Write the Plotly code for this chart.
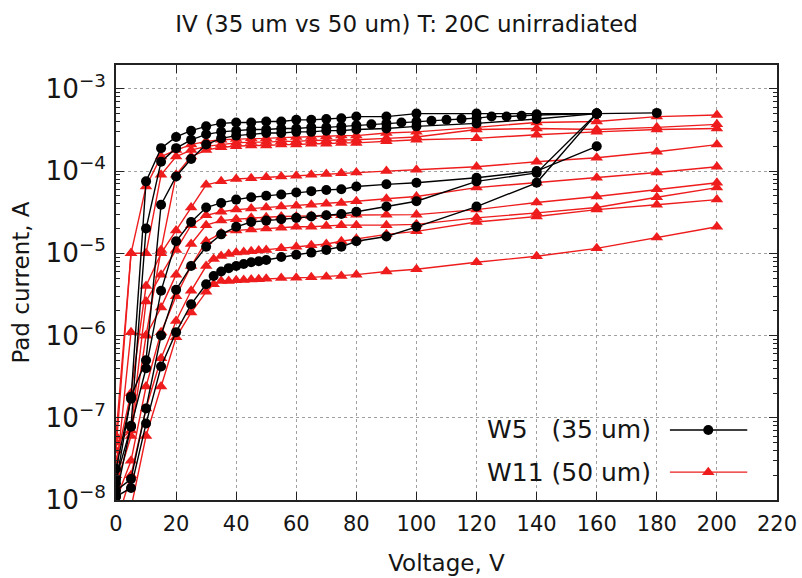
import plotly.graph_objects as go

# ---- bias voltage grids (V) ----
V_W5_TOP = [0, 5, 10, 15, 20, 25, 30, 35, 40, 45, 50, 55, 60, 65, 70, 75, 80,
            90, 100, 120, 140, 160, 180]
V_W5_FINE = [0, 5, 10, 15, 20, 25, 30, 35, 40, 45, 50, 55, 60, 65, 70, 75, 80,
             85, 90, 95, 100, 105, 110, 115, 120, 125, 130, 135, 140, 160]
V_W5_STD = [0, 5, 10, 15, 20, 25, 30, 35, 40, 45, 50, 55, 60, 65, 70, 75, 80,
            90, 100, 120, 140, 160]
V_W5_DENSE = [0, 5, 10, 15, 20, 25, 30, 32.5, 35, 37.5, 40, 42.5, 45, 47.5, 50,
              55, 60, 65, 70, 75, 80, 90, 100, 120, 140, 160]
V_W11_STD = [0, 5, 10, 15, 20, 25, 30, 35, 40, 45, 50, 55, 60, 65, 70, 75, 80,
             90, 100, 120, 140, 160, 180, 200]
V_W11_DENSE = [0, 5, 10, 15, 20, 25, 30, 32.5, 35, 37.5, 40, 42.5, 45, 47.5, 50,
               55, 60, 65, 70, 75, 80, 90, 100, 120, 140, 160, 180, 200]

# ---- W5 (35 um) pad currents (A) ----
w5_pad1 = [2.4e-8, 1.7e-7, 7.5e-5, 1.9e-4, 2.6e-4, 3.1e-4, 3.5e-4, 3.8e-4, 3.9e-4,
           3.9e-4, 4.0e-4, 4.0e-4, 4.2e-4, 4.2e-4, 4.3e-4, 4.4e-4, 4.6e-4,
           4.6e-4, 5.0e-4, 5.0e-4, 4.9e-4, 5.0e-4, 5.1e-4]
w5_pad2 = [1.1e-8, 8e-8, 2e-5, 1.3e-4, 1.9e-4, 2.4e-4, 2.8e-4, 3.0e-4, 3.1e-4,
           3.2e-4, 3.2e-4, 3.3e-4, 3.3e-4, 3.4e-4, 3.4e-4, 3.5e-4, 3.6e-4,
           3.7e-4, 3.8e-4, 3.9e-4, 4.0e-4, 4.1e-4, 4.2e-4, 4.3e-4, 4.4e-4,
           4.6e-4, 4.6e-4, 4.7e-4, 4.8e-4, 5.0e-4]
w5_pad3 = [1.6e-8, 1.8e-7, 5e-7, 3.9e-5, 8.6e-5, 1.4e-4, 2.1e-4, 2.5e-4, 2.7e-4,
           2.8e-4, 2.9e-4, 2.9e-4, 3.0e-4, 3.0e-4, 3.1e-4, 3.1e-4, 3.2e-4,
           3.3e-4, 3.5e-4, 3.8e-4, 4.3e-4, 5.0e-4]
w5_pad4 = [1.8e-8, 7.8e-8, 4e-7, 3.5e-6, 1.4e-5, 2.4e-5, 3.6e-5, 4.1e-5, 4.5e-5,
           4.8e-5, 5.0e-5, 5.2e-5, 5.5e-5, 5.7e-5, 5.9e-5, 6.0e-5, 6.5e-5,
           6.9e-5, 7.2e-5, 8.3e-5, 1.0e-4, 2.0e-4]
w5_pad5 = [1.3e-8, 1.8e-8, 1.3e-7, 1.0e-6, 3.6e-6, 7e-6, 1.2e-5, 1.7e-5, 2.1e-5,
           2.4e-5, 2.5e-5, 2.6e-5, 2.7e-5, 2.8e-5, 2.9e-5, 3.0e-5, 3.2e-5,
           3.7e-5, 4.3e-5, 7.5e-5, 9.5e-5, 5.0e-4]
w5_pad6 = [1.1e-8, 1.4e-8, 8.5e-8, 4.2e-7, 1.1e-6, 2.4e-6, 4.2e-6, 5.3e-6, 6.0e-6,
           6.6e-6, 7.0e-6, 7.4e-6, 7.8e-6, 8.0e-6, 8.3e-6, 9.0e-6, 9.6e-6,
           1.02e-5, 1.1e-5, 1.2e-5, 1.4e-5, 1.6e-5, 2.1e-5, 3.7e-5, 7.2e-5, 5.0e-4]

# ---- W11 (50 um) pad currents (A) ----
w11_pad1 = [6e-8, 1e-5, 6.5e-5, 1.5e-4, 1.8e-4, 2.1e-4, 2.3e-4, 2.4e-4, 2.45e-4,
            2.5e-4, 2.5e-4, 2.55e-4, 2.6e-4, 2.6e-4, 2.65e-4, 2.7e-4, 2.7e-4,
            2.9e-4, 3.0e-4, 3.4e-4, 3.9e-4, 4.0e-4, 4.6e-4, 4.8e-4]
w11_pad2 = [4e-8, 1e-5, 1e-5, 9e-5, 1.5e-4, 1.8e-4, 2.0e-4, 2.1e-4, 2.2e-4,
            2.25e-4, 2.25e-4, 2.3e-4, 2.3e-4, 2.35e-4, 2.35e-4, 2.4e-4, 2.4e-4,
            2.5e-4, 2.6e-4, 3.2e-4, 3.3e-4, 3.2e-4, 3.4e-4, 3.7e-4]
w11_pad3 = [2e-8, 1.1e-6, 1e-6, 1.1e-5, 9e-5, 1.5e-4, 1.8e-4, 1.95e-4, 2.0e-4,
            2.05e-4, 2.05e-4, 2.1e-4, 2.1e-4, 2.15e-4, 2.15e-4, 2.2e-4, 2.2e-4,
            2.3e-4, 2.4e-4, 2.5e-4, 2.77e-4, 3.0e-4, 3.2e-4, 3.3e-4]
w11_pad4 = [3e-8, 2e-7, 4e-6, 1e-5, 1.9e-5, 3.6e-5, 6.8e-5, 7.5e-5, 8.0e-5,
            8.2e-5, 8.4e-5, 8.6e-5, 8.8e-5, 9.0e-5, 9.2e-5, 9.4e-5, 9.6e-5,
            1.0e-4, 1.04e-4, 1.13e-4, 1.3e-4, 1.45e-4, 1.72e-4, 2.1e-4]
w11_pad5 = [5e-8, 7e-8, 2.6e-6, 5.5e-6, 1.1e-5, 2.2e-5, 2.9e-5, 3.2e-5, 3.4e-5,
            3.5e-5, 3.6e-5, 3.7e-5, 3.8e-5, 3.9e-5, 4.0e-5, 4.1e-5, 4.3e-5,
            4.6e-5, 4.9e-5, 6.3e-5, 7.2e-5, 8.3e-5, 9.6e-5, 1.13e-4]
w11_pad6 = [1.5e-8, 6e-8, 1e-6, 2.2e-6, 5.5e-6, 1.3e-5, 2.2e-5, 2.5e-5, 2.6e-5,
            2.7e-5, 2.75e-5, 2.8e-5, 2.8e-5, 2.85e-5, 2.9e-5, 2.9e-5, 2.95e-5,
            2.95e-5, 2.95e-5, 3.4e-5, 4.15e-5, 4.9e-5, 6.0e-5, 7.2e-5]
w11_pad7 = [1e-8, 3e-8, 2.4e-7, 1.1e-6, 3e-6, 7e-6, 1.4e-5, 1.75e-5, 1.9e-5,
            1.95e-5, 2.0e-5, 2.05e-5, 2.1e-5, 2.1e-5, 2.15e-5, 2.2e-5, 2.2e-5,
            2.2e-5, 2.25e-5, 2.7e-5, 3.1e-5, 3.6e-5, 4.8e-5, 6.3e-5]
w11_pad8 = [5e-9, 2e-8, 1.3e-7, 5.3e-7, 1.5e-6, 3.5e-6, 7e-6, 8.5e-6, 9.3e-6,
            9.8e-6, 1.02e-5, 1.04e-5, 1.06e-5, 1.08e-5, 1.1e-5, 1.15e-5, 1.2e-5,
            1.25e-5, 1.3e-5, 1.4e-5, 1.5e-5, 1.7e-5, 1.85e-5, 2.4e-5, 2.8e-5,
            3.4e-5, 3.9e-5, 4.5e-5]
w11_pad9 = [3e-9, 8e-9, 6e-8, 2.4e-7, 9.5e-7, 1.9e-6, 3.4e-6, 4.2e-6, 4.6e-6,
            4.6e-6, 4.7e-6, 4.75e-6, 4.8e-6, 4.85e-6, 4.9e-6, 5.0e-6, 5.05e-6,
            5.1e-6, 5.2e-6, 5.3e-6, 5.5e-6, 6.0e-6, 6.4e-6, 7.8e-6, 9.2e-6,
            1.15e-5, 1.56e-5, 2.1e-5]

LEGEND_W5 = "W5   (35 um)"
LEGEND_W11 = "W11 (50 um)"

BLACK = "#000000"
RED = "#ee1c1c"
FONT = "DejaVu Sans"
TEXT = "#151515"

w5_series = [
    (V_W5_TOP, w5_pad1), (V_W5_FINE, w5_pad2), (V_W5_STD, w5_pad3),
    (V_W5_STD, w5_pad4), (V_W5_STD, w5_pad5), (V_W5_DENSE, w5_pad6),
]
w11_series = [
    (V_W11_STD, w11_pad1), (V_W11_STD, w11_pad2), (V_W11_STD, w11_pad3),
    (V_W11_STD, w11_pad4), (V_W11_STD, w11_pad5), (V_W11_STD, w11_pad6),
    (V_W11_STD, w11_pad7), (V_W11_DENSE, w11_pad8), (V_W11_DENSE, w11_pad9),
]

fig = go.Figure()

for v, i in w11_series:
    fig.add_trace(go.Scatter(
        x=v, y=i, mode="lines+markers", showlegend=False,
        line=dict(color=RED, width=1.4),
        marker=dict(symbol="triangle-up", size=11, color=RED, line=dict(width=0)),
    ))

for v, i in w5_series:
    fig.add_trace(go.Scatter(
        x=v, y=i, mode="lines+markers", showlegend=False,
        line=dict(color=BLACK, width=1.4),
        marker=dict(symbol="circle", size=10, color=BLACK, line=dict(width=0)),
    ))

# key samples drawn on an overlay unit axis in the lower-right corner
key_rows = [(0.161, BLACK, "circle", 10, LEGEND_W5),
            (0.064, RED, "triangle-up", 11, LEGEND_W11)]
for ky, col, sym, sz, label in key_rows:
    fig.add_trace(go.Scatter(
        x=[0.838, 0.955], y=[ky, ky], mode="lines", xaxis="x2", yaxis="y2",
        line=dict(color=col, width=1.4), showlegend=False, hoverinfo="skip"))
    fig.add_trace(go.Scatter(
        x=[0.896], y=[ky], mode="markers", xaxis="x2", yaxis="y2",
        marker=dict(symbol=sym, size=sz, color=col, line=dict(width=0)),
        showlegend=False, hoverinfo="skip"))
    fig.add_annotation(
        x=0.813, y=ky, xref="paper", yref="paper", text=label,
        showarrow=False, xanchor="right", yanchor="middle",
        font=dict(family=FONT, size=25, color=TEXT))

axis_common = dict(
    showline=True, linecolor="#222222", linewidth=1.5, mirror="ticks",
    ticks="inside", ticklen=8, tickwidth=1.3, tickcolor="#222222",
    showgrid=True, gridcolor="#a0a0a0", griddash="dot", gridwidth=1,
    zeroline=False, automargin=False,
    tickfont=dict(family=FONT, size=21, color=TEXT),
)

fig.update_layout(
    width=802, height=578,
    margin=dict(l=116, r=25, t=65, b=78, autoexpand=False),
    paper_bgcolor="white", plot_bgcolor="white",
    title=dict(text="IV (35 um vs 50 um) T: 20C unirradiated",
               x=0.507, xref="container", xanchor="center",
               y=0.958, yref="container", yanchor="middle",
               font=dict(family=FONT, size=23, color=TEXT)),
    xaxis=dict(
        range=[0, 220], tick0=0, dtick=20,
        title=dict(text="Voltage, V", standoff=20,
                   font=dict(family=FONT, size=23, color=TEXT)),
        ticklabelstandoff=4,
        **axis_common),
    yaxis=dict(
        type="log", range=[-8, -2.71], dtick=1, exponentformat="power",
        showexponent="all",
        minor=dict(ticks="inside", ticklen=4, tickwidth=1.1,
                   tickcolor="#222222", showgrid=False),
        title=dict(text="Pad current, A", standoff=10,
                   font=dict(family=FONT, size=23, color=TEXT)),
        ticklabelstandoff=4,
        **axis_common),
    xaxis2=dict(overlaying="x", range=[0, 1], visible=False, fixedrange=True),
    yaxis2=dict(overlaying="y", range=[0, 1], visible=False, fixedrange=True),
)

fig.write_html("out.html")
